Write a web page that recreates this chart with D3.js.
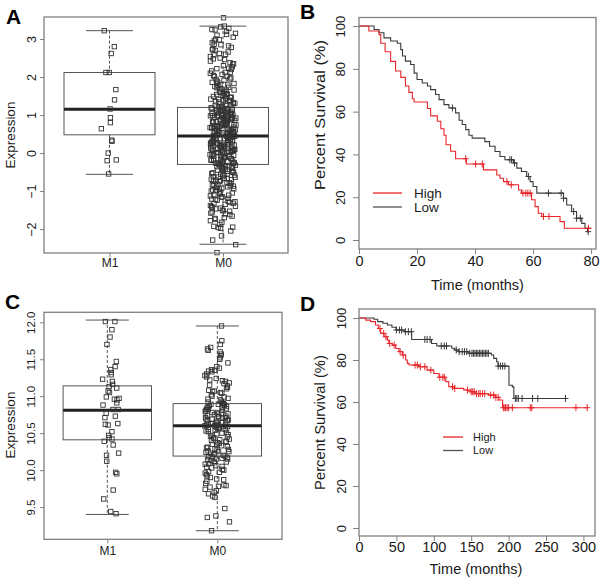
<!DOCTYPE html>
<html><head><meta charset="utf-8">
<script src="https://cdn.jsdelivr.net/npm/d3@7"></script>
<style>body{margin:0;background:#fff}svg{display:block}text{font-family:"Liberation Sans",Arial,sans-serif;fill:#1a1a1a}</style>
</head><body>
<svg id="c" width="600" height="580"></svg>
<script>
// ---------- DATA ----------
const groups = ["M1", "M0"];
const boxA = [ {g:"M1", lo:-0.56, q1:0.48, med:1.15, q3:2.12, hi:3.22}, {g:"M0", lo:-2.40, q1:-0.30, med:0.45, q3:1.20, hi:3.34} ];
const boxC = [ {g:"M1", lo:9.40, q1:10.41, med:10.81, q3:11.14, hi:12.03}, {g:"M0", lo:9.18, q1:10.19, med:10.60, q3:10.90, hi:11.95} ];
const aM1 = [3.22,2.80,2.62,2.12,2.12,1.67,1.40,1.16,0.93,0.80,0.64,0.34,0.31,0.00,-0.18,-0.20,-0.55];
const aM0 = [-2.62,-2.41,-2.29,-2.18,-2.05,-1.98,-1.96,-1.93,-1.88,-1.82,-1.78,-1.74,-1.70,-1.66,-1.62,-1.58,-1.55,-1.53,-1.50,-1.47,-1.44,-1.41,-1.38,-1.35,-1.33,-1.30,-1.27,-1.24,-1.21,-1.19,-1.16,-1.13,-1.10,-1.08,-1.05,-1.02,-0.99,-0.97,-0.94,-0.92,-0.89,-0.87,-0.85,-0.82,-0.80,-0.78,-0.75,-0.73,-0.71,-0.69,-0.66,-0.64,-0.62,-0.60,-0.58,-0.56,-0.54,-0.52,-0.50,-0.48,-0.46,-0.45,-0.43,-0.41,-0.39,-0.37,-0.36,-0.34,-0.32,-0.31,
-0.29,-0.28,-0.27,-0.26,-0.25,-0.24,-0.22,-0.21,-0.20,-0.18,-0.17,-0.16,-0.14,-0.13,-0.12,-0.10,-0.09,-0.08,-0.06,-0.05,-0.04,-0.03,-0.01,0.00,0.01,0.02,0.03,0.04,0.05,0.06,0.07,0.08,0.09,0.10,0.11,0.12,0.13,0.14,0.15,0.16,0.17,0.18,0.19,0.20,0.21,0.22,0.23,0.24,0.25,0.26,0.27,0.28,0.29,0.30,0.31,0.32,0.33,0.34,0.35,0.36,0.37,0.38,0.39,0.40,0.41,0.42,0.43,0.44,0.45,0.45,
0.46,0.47,0.48,0.49,0.50,0.51,0.52,0.53,0.54,0.55,0.56,0.57,0.58,0.60,0.61,0.62,0.63,0.64,0.65,0.66,0.67,0.68,0.69,0.70,0.71,0.72,0.73,0.74,0.75,0.76,0.77,0.78,0.79,0.80,0.81,0.82,0.83,0.84,0.85,0.86,0.87,0.88,0.89,0.90,0.91,0.92,0.93,0.94,0.95,0.96,0.97,0.98,0.99,1.00,1.01,1.02,1.03,1.04,1.05,1.06,1.07,1.08,1.10,1.11,1.12,1.13,1.15,1.16,1.18,1.19,
1.21,1.23,1.25,1.27,1.29,1.31,1.33,1.35,1.37,1.39,1.41,1.43,1.45,1.47,1.49,1.52,1.54,1.56,1.58,1.61,1.63,1.65,1.68,1.70,1.73,1.75,1.78,1.80,1.83,1.86,1.89,1.92,1.95,1.98,2.01,2.04,2.07,2.10,2.13,2.16,2.20,2.23,2.27,2.30,2.34,2.38,2.42,2.46,2.50,2.54,2.58,2.62,2.66,2.70,2.74,2.78,2.82,2.86,2.90,2.95,3.00,3.05,3.10,3.15,3.20,3.24,3.28,3.32,3.34,3.56,
-1.95,-1.72,-1.60,-1.52,-1.45,-1.40,-1.32,-1.28,-1.22,-1.15,-1.11,-1.06,-1.00,-0.95,-0.90,-0.86,-0.83,-0.79,-0.74,-0.70,-0.67,-0.63,-0.59,-0.55,-0.51,-0.47,-0.42,-0.38,-0.33,-0.30,-0.27,-0.23,-0.19,-0.15,-0.11,-0.07,-0.02,0.02,0.06,0.10,0.14,0.18,0.22,0.26,0.30,0.34,0.38,0.42,0.44,0.47,0.50,0.53,0.56,0.59,0.62,0.65,0.68,0.71,0.74,0.77,0.80,0.83,0.86,0.89,0.92,0.95,0.98,1.01,1.04,1.07,1.10,1.13,1.16,1.19,1.22,1.26,1.30,1.34,1.38,1.42,1.46,1.50,1.55,1.60,1.66,1.72,1.79,1.86,1.94,2.02,2.12,2.22,2.35,2.48,2.60,2.72,2.85,2.98,3.12,3.25];
const cM1 = [12.01,12.01,11.90,11.80,11.70,11.47,11.40,11.36,11.32,11.29,11.23,11.20,11.16,11.13,11.11,11.07,11.05,10.99,10.97,10.96,10.95,10.91,10.88,10.82,10.82,10.77,10.73,10.71,10.63,10.62,10.61,10.52,10.47,10.44,10.42,10.39,10.34,10.23,10.20,10.12,9.97,9.95,9.73,9.61,9.44,9.41];
const cM0 = [9.18,9.30,9.36,9.38,9.48,9.63,9.65,9.68,9.70,9.72,9.74,9.77,9.78,9.79,9.80,9.82,9.85,9.87,9.88,9.90,9.92,9.94,9.96,9.97,9.98,10.00,10.01,10.03,10.04,10.05,10.06,10.08,10.09,10.10,10.11,10.12,10.13,10.14,10.15,10.15,10.16,10.17,10.18,10.18,10.19,
10.20,10.21,10.22,10.23,10.24,10.25,10.25,10.26,10.27,10.28,10.29,10.30,10.31,10.32,10.33,10.34,10.35,10.36,10.37,10.38,10.39,10.40,10.41,10.42,10.43,10.44,10.45,10.46,10.47,10.48,10.49,10.50,10.51,10.52,10.53,10.54,10.55,10.55,10.56,10.57,10.57,10.58,10.59,10.59,10.60,
10.60,10.61,10.61,10.62,10.63,10.63,10.64,10.65,10.65,10.66,10.67,10.67,10.68,10.69,10.69,10.70,10.71,10.71,10.72,10.73,10.73,10.74,10.75,10.76,10.76,10.77,10.78,10.78,10.79,10.80,10.81,10.82,10.82,10.83,10.84,10.85,10.85,10.86,10.87,10.88,10.88,10.89,10.89,10.90,10.90,
10.91,10.92,10.93,10.95,10.96,10.97,10.99,11.00,11.02,11.04,11.05,11.06,11.07,11.08,11.10,11.12,11.14,11.15,11.17,11.18,11.20,11.21,11.22,11.24,11.26,11.28,11.30,11.33,11.34,11.35,11.36,11.38,11.40,11.45,11.50,11.52,11.55,11.57,11.60,11.62,11.64,11.66,11.70,11.75,11.95];

const ticksA = [-2, -1, 0, 1, 2, 3];
const ticksC = [9.5, 10.0, 10.5, 11.0, 11.5, 12.0];
const ticksSurv = [0, 20, 40, 60, 80, 100];
const ticksTimeB = [0, 20, 40, 60, 80];
const ticksTimeD = [0, 50, 100, 150, 200, 250, 300];
const legendLabels = ["High", "Low"];

const bHighT = [0,3.4,6.9,7.5,9,10.9,12.6,14.4,16,17.2,18.4,19,23.6,24.7,27,28.2,29.3,30,31.6,33.3,37,42.9,47.5,48.6,49.8,51.5,55,56,59.5,60.7,61.8,63,69.3,70.8,80];
const bHighS = [100,97.7,96,92,88,83.5,79,76,72,69,66,64.5,61.5,58,55.5,52,49,44.5,41.5,38,35.5,32.8,30.4,28.9,27.3,25.8,23.4,21.9,18.8,15.6,12.5,11,8.6,5.5,5.5];
const bHighCens = [36.8,40.2,42.5,51,52.5,56.5,57.5,58.2,59,63.6,65.5,79.1];
const bLowT = [0,5.2,6.9,8.6,10.9,13.2,14.4,15,16,17.8,19,20,21.8,23.6,24.7,26.4,27.6,29.3,31,33.3,34.5,35.6,36.8,37.9,39,43.4,45,46.9,48.6,50.3,53.2,54.4,56,57.8,59,60,61.3,70.5,71.6,73.3,75,76.8,77.9,78.8,79.2];
const bLowS = [100,98.4,96.9,94.5,93,92,89,86,83.6,82,78,75,73.4,72,70.3,68,65.6,63.3,61.7,59.4,56,54,51.6,49,47.6,46,43.8,41.4,39,37.5,36,33.6,32,29.7,27.3,25,21.9,19.5,16.4,13.3,10.2,7.8,5.5,3.9,3.9];
const bLowCens = [32.2,52,52.6,53.6,58.4,65.3,69.7,70.5,74,75,76.3,79];

const dHighT = [0,9,15.6,22,25.8,29,33.4,37.9,40,44.6,49,53.5,58,62.4,64.6,67,80,91,100,107,116,120,127,140,149,156,173,182,187,192,305];
const dHighS = [100,99,98.3,96.7,95,92.7,91.1,89.5,87.9,87.1,85.5,84,82.4,80,78.4,77.6,76.8,75.2,73.6,71.8,69.7,67.3,66.5,65.7,64.9,64,63.3,62.2,61,57.3,57.3];
const dHighCens = [28,33,36,41,47,55,59,75,78,82,88,96,108,112,114,125,128,145,150,152,154,157,160,162,165,168,176,180,183,186,193,195,196,198,200,205,229,231,290,305];
const dLowT = [0,20,25,32,38,44,49.5,61,70.4,97,104,124,128,133,146,177,180,184,186,200.5,205,207,276];
const dLowS = [100,99.4,98.3,97.5,96.7,95.6,94.3,93.5,89.8,87.9,86.7,85.6,84.8,84,83.2,82.4,80.8,79.2,77.1,68,67.2,61.7,61.7];
const dLowCens = [50,54,57,62,66,70,88,91,95,110,114,117,130,134,138,141,144,148,151,153,155,157,159,161,163,165,167,169,171,173,186,189,192,195,209,211,213,218,232,239,276];

// ---------- DRAW ----------
const svg = d3.select("#c");
const FRAME = "#808080", RED = "#e8262b", DARK = "#3a3a3a";

function frame(x0, y0, x1, y1) {
  svg.append("rect").attr("x", x0).attr("y", y0).attr("width", x1 - x0).attr("height", y1 - y0)
    .attr("fill", "none").attr("stroke", FRAME).attr("stroke-width", 1.3);
}
function panelLabel(t, x, y) {
  svg.append("text").attr("x", x).attr("y", y).attr("font-size", 21).attr("font-weight", "bold").style("fill", "#000").text(t);
}
function leftAxis(scale, ticks, x, fmt, fs, tickLen, off) {
  const g = svg.append("g").attr("transform", `translate(${x},0)`)
    .call(d3.axisLeft(scale).tickValues(ticks).tickFormat(fmt).tickSize(tickLen).tickSizeOuter(0));
  g.select(".domain").remove();
  g.selectAll(".tick line").attr("stroke", FRAME);
  g.selectAll(".tick text").attr("transform", "rotate(-90)").attr("x", 0).attr("y", -off).attr("dy", 0)
    .attr("text-anchor", "middle").attr("font-size", fs).attr("fill", null);
  g.attr("font-family", null).attr("font-size", null);
  return g;
}
function bottomAxis(scale, ticks, y, fs, tickLen, off) {
  const g = svg.append("g").attr("transform", `translate(0,${y})`)
    .call(d3.axisBottom(scale).tickValues(ticks).tickSize(tickLen).tickSizeOuter(0));
  g.select(".domain").remove();
  g.selectAll(".tick line").attr("stroke", FRAME);
  g.selectAll(".tick text").attr("y", off).attr("dy", "0.35em").attr("font-size", fs).attr("fill", null);
  g.attr("font-family", null).attr("font-size", null);
  return g;
}
function yLabel(t, x, y, fs, len) {
  const tx = svg.append("text").attr("transform", `translate(${x},${y}) rotate(-90)`)
    .attr("text-anchor", "middle").attr("font-size", fs).text(t);
  if (len) tx.attr("textLength", len).attr("lengthAdjust", "spacingAndGlyphs");
}
// deterministic scatter for horizontal jitter (layout only)
const jitterU = i => { const v = Math.sin(i * 12.9898 + 78.233) * 43758.5453; return v - Math.floor(v); };

function boxPanel(xs, ys, stats, pts, jit, jitShift, halfW, capW) {
  stats.forEach(s => {
    const cx = xs(s.g);
    svg.append("line").attr("x1", cx).attr("x2", cx).attr("y1", ys(s.hi)).attr("y2", ys(s.q3))
      .attr("stroke", "#555").attr("stroke-dasharray", "3,2");
    svg.append("line").attr("x1", cx).attr("x2", cx).attr("y1", ys(s.q1)).attr("y2", ys(s.lo))
      .attr("stroke", "#555").attr("stroke-dasharray", "3,2");
    [s.hi, s.lo].forEach(v => svg.append("line").attr("x1", cx - capW).attr("x2", cx + capW)
      .attr("y1", ys(v)).attr("y2", ys(v)).attr("stroke", "#555"));
    svg.append("rect").attr("x", cx - halfW).attr("y", ys(s.q3)).attr("width", 2 * halfW)
      .attr("height", ys(s.q1) - ys(s.q3)).attr("fill", "#fff").attr("stroke", "#555");
    svg.append("line").attr("x1", cx - halfW).attr("x2", cx + halfW).attr("y1", ys(s.med)).attr("y2", ys(s.med))
      .attr("stroke", "#222").attr("stroke-width", 3);
  });
  pts.forEach((arr, k) => {
    const cx = xs(groups[k]) + jitShift[k];
    svg.append("g").selectAll("rect").data(arr).join("rect")
      .attr("x", (d, i) => cx + (jitterU(i + k * 1000) - 0.5) * 2 * jit[k] - 2.2)
      .attr("y", d => ys(d) - 2.2).attr("width", 4.4).attr("height", 4.4)
      .attr("fill", "none").attr("stroke", "#333").attr("stroke-width", 0.9);
  });
}

// Panel A
{
  const ys = d3.scaleLinear().domain([-2.63, 3.58]).range([253, 17]);
  const xs = d3.scalePoint().domain(groups).range([109.5, 223]);
  boxPanel(xs, ys, boxA, [aM1, aM0], [9, 13], [0.5, 0], 45.5, 23.5);
  frame(44, 17, 288, 253);
  leftAxis(ys, ticksA, 44, d3.format("d"), 12.5, 4, 8.5);
  bottomAxis(xs, groups, 253, 12, 4, 10);
  yLabel("Expression", 15, 135, 13.5);
  panelLabel("A", 6, 24);
}
// Panel C
{
  const ys = d3.scaleLinear().domain([9.064, 12.135]).range([539.3, 312.3]);
  const xs = d3.scalePoint().domain(groups).range([107.3, 217.3]);
  boxPanel(xs, ys, boxC, [cM1, cM0], [8.5, 12.5], [3.5, 0], 44.2, 21.5);
  frame(44, 312.3, 282, 539.3);
  leftAxis(ys, ticksC, 44, d3.format(".1f"), 11.5, 4, 9.5);
  bottomAxis(xs, groups, 539.3, 12, 4, 12);
  yLabel("Expression", 15, 425, 13.5);
  panelLabel("C", 5, 309);
}

function kmPanel(xs, ys, series) {
  const line = d3.line().curve(d3.curveStepAfter).x(d => xs(d[0])).y(d => ys(d[1]));
  series.forEach(s => {
    const pts = s.t.map((t, i) => [t, s.s[i]]);
    svg.append("path").attr("d", line(pts)).attr("fill", "none").attr("stroke", s.c).attr("stroke-width", 1.1);
    const surv = t => { let v = s.s[0]; s.t.forEach((tt, i) => { if (tt <= t) v = s.s[i]; }); return v; };
    const g = svg.append("g").attr("stroke", s.c).attr("stroke-width", 1);
    s.cens.forEach(t => {
      const x = xs(t), y = ys(surv(t));
      g.append("line").attr("x1", x - 3).attr("x2", x + 3).attr("y1", y).attr("y2", y);
      g.append("line").attr("x1", x).attr("x2", x).attr("y1", y - 3.5).attr("y2", y + 3.5);
    });
  });
}
function legend(x0, x1, tx, y0, dy, fs) {
  [RED, "#555"].forEach((c, i) => {
    svg.append("line").attr("x1", x0).attr("x2", x1).attr("y1", y0 + i * dy).attr("y2", y0 + i * dy)
      .attr("stroke", c).attr("stroke-width", 1.3);
    svg.append("text").attr("x", tx).attr("y", y0 + i * dy).attr("dy", "0.35em").attr("font-size", fs).text(legendLabels[i]);
  });
}

// Panel B
{
  const xs = d3.scaleLinear().domain([0, 81.7]).range([359, 596]);
  const ys = d3.scaleLinear().domain([-4.2, 104]).range([249, 17.5]);
  kmPanel(xs, ys, [
    {t: bLowT, s: bLowS, cens: bLowCens, c: DARK},
    {t: bHighT, s: bHighS, cens: bHighCens, c: RED}
  ]);
  frame(359, 17.5, 596, 249);
  leftAxis(ys, ticksSurv, 359, d3.format("d"), 13, 6, 14);
  bottomAxis(xs, ticksTimeB, 249, 14.5, 5, 12);
  svg.append("text").attr("x", 477.5).attr("y", 285).attr("dy", "0.35em").attr("text-anchor", "middle").attr("font-size", 14.5).text("Time (months)");
  yLabel("Percent Survival (%)", 325, 115, 15, 150);
  legend(373, 402, 414, 193, 14, 13.5);
  panelLabel("B", 300, 19);
}
// Panel D
{
  const xs = d3.scaleLinear().domain([0, 315.5]).range([359, 595]);
  const ys = d3.scaleLinear().domain([-3.8, 104.3]).range([536, 309]);
  kmPanel(xs, ys, [
    {t: dLowT, s: dLowS, cens: dLowCens, c: DARK},
    {t: dHighT, s: dHighS, cens: dHighCens, c: RED}
  ]);
  frame(359, 309, 595, 536);
  leftAxis(ys, ticksSurv, 359, d3.format("d"), 13, 6, 13);
  bottomAxis(xs, ticksTimeD, 536, 14.5, 5, 11);
  svg.append("text").attr("x", 476).attr("y", 569).attr("dy", "0.35em").attr("text-anchor", "middle").attr("font-size", 14.5).text("Time (months)");
  yLabel("Percent Survival (%)", 325, 422.5, 14.8);
  legend(443, 463, 473, 437, 13.5, 11);
  panelLabel("D", 300, 311);
}
</script>
</body></html>
